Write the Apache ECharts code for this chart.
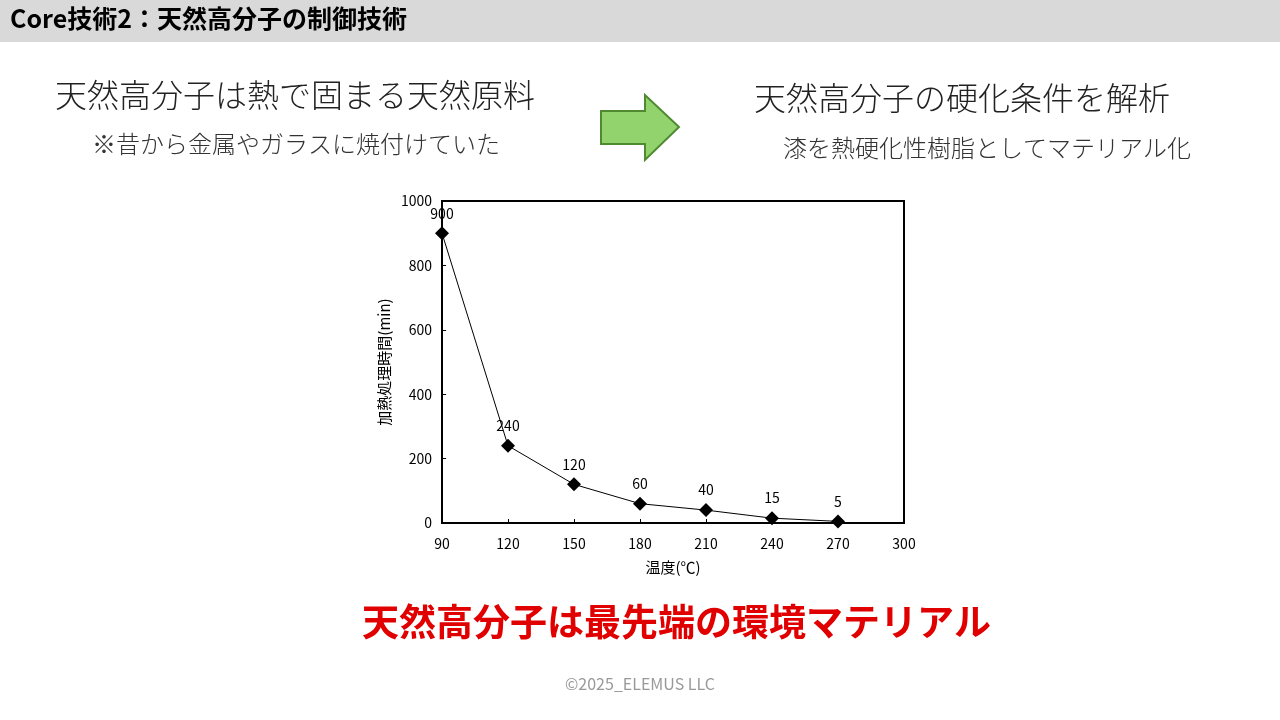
<!DOCTYPE html>
<html lang="ja">
<head>
    <meta charset="utf-8">
    <title>Core技術2</title>
    <script type="text/javascript" src="https://cdn.jsdelivr.net/npm/echarts/dist/echarts.min.js"></script>
    <style>
        html, body { margin: 0; padding: 0; background: #fff; }
        #chart { width: 1280px; height: 720px; }
    </style>
</head>
<body>
    <div id="chart"></div>
    <script type="text/javascript" charset="utf-8">
        // 温度(℃) と 加熱処理時間(min)
        var temps = [90, 120, 150, 180, 210, 240, 270];
        var minutes = [900, 240, 120, 60, 40, 15, 5];

        var jp = '"Noto Sans CJK JP", "Noto Sans", sans-serif';
        var points = temps.map(function (t, i) { return [t, minutes[i]]; });

        var myChart = echarts.init(document.getElementById('chart'));
        myChart.setOption({
            backgroundColor: '#ffffff',
            animation: false,
            textStyle: { fontFamily: jp },
            graphic: [
                { type: 'rect', shape: { x: 0, y: 0, width: 1280, height: 42 }, style: { fill: '#d9d9d9' } },
                { type: 'text', left: 10, top: 6, style: { text: 'Core技術2：天然高分子の制御技術', font: 'bold 25px ' + jp, fill: '#000' } },
                { type: 'text', left: 55, top: 79, style: { text: '天然高分子は熱で固まる天然原料', font: '300 32px ' + jp, fill: '#222' } },
                { type: 'text', left: 92, top: 132, style: { text: '※昔から金属やガラスに焼付けていた', font: '300 24px ' + jp, fill: '#333' } },
                { type: 'text', left: 754, top: 82, style: { text: '天然高分子の硬化条件を解析', font: '300 32px ' + jp, fill: '#222' } },
                { type: 'text', left: 783, top: 136, style: { text: '漆を熱硬化性樹脂としてマテリアル化', font: '300 24px ' + jp, fill: '#333' } },
                {
                    type: 'polygon',
                    shape: { points: [[601, 111], [645, 111], [645, 95], [679, 127], [645, 160], [645, 144], [601, 144]] },
                    style: { fill: '#92d36e', stroke: '#4f8a30', lineWidth: 2 }
                },
                { type: 'text', left: 362, top: 603, style: { text: '天然高分子は最先端の環境マテリアル', font: 'bold 37px ' + jp, fill: '#e00000' } },
                { type: 'text', left: 'center', top: 676, style: { text: '©2025_ELEMUS LLC', font: '16px ' + jp, fill: '#999' } }
            ],
            grid: {
                left: 442, right: 376, top: 201, height: 322,
                show: true, borderColor: '#000', borderWidth: 2, backgroundColor: 'transparent'
            },
            xAxis: {
                type: 'value', min: 90, max: 300, interval: 30,
                name: '温度(℃)', nameLocation: 'middle', nameGap: 37,
                nameTextStyle: { fontSize: 15, color: '#000' },
                axisLine: { show: true, lineStyle: { color: '#000', width: 2 } },
                axisTick: { show: true, inside: true, length: 4, lineStyle: { color: '#000' } },
                axisLabel: { fontSize: 14, color: '#000', margin: 14 },
                splitLine: { show: false }
            },
            yAxis: {
                type: 'value', min: 0, max: 1000, interval: 200,
                name: '加熱処理時間(min)', nameLocation: 'middle', nameGap: 50,
                nameTextStyle: { fontSize: 15, color: '#000' },
                axisLine: { show: true, lineStyle: { color: '#000', width: 2 } },
                axisTick: { show: true, inside: true, length: 4, lineStyle: { color: '#000' } },
                axisLabel: {
                    fontSize: 14, color: '#000', margin: 10,
                    formatter: function (v) { return String(v); }
                },
                splitLine: { show: false }
            },
            series: [{
                name: '加熱処理時間',
                type: 'line',
                data: points,
                symbol: 'diamond',
                symbolSize: 14,
                itemStyle: { color: '#000' },
                lineStyle: { color: '#000', width: 1 },
                label: { show: true, position: 'top', distance: 6, fontSize: 14, color: '#000' }
            }]
        });
    </script>
</body>
</html>
